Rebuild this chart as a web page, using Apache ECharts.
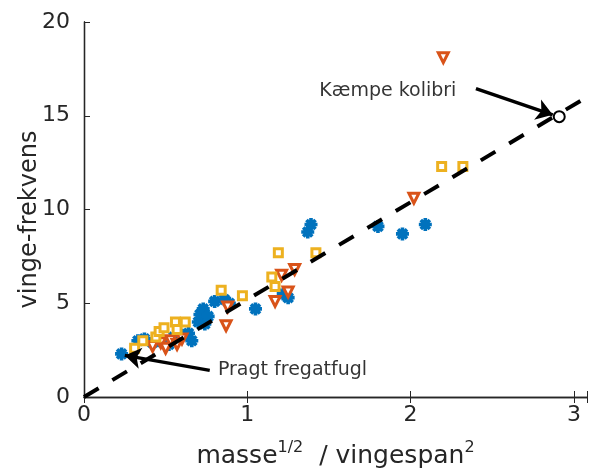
<!DOCTYPE html>
<html>
<head>
<meta charset="utf-8">
<script src="https://cdn.jsdelivr.net/npm/echarts@6/dist/echarts.min.js"></script>
<style>html,body{margin:0;padding:0;background:#fff}#c{width:590px;height:475px}</style>
</head>
<body>
<div id="c"></div>
<script>
// x = masse^(1/2) / vingespan^2, y = vinge-frekvens
const blueStars = [[0.23,2.3],[0.33,3.0],[0.37,3.1],[0.42,2.9],[0.46,3.0],[0.52,2.8],[0.55,3.2],[0.60,3.3],[0.64,3.4],[0.66,3.0],[0.70,4.0],[0.71,4.4],[0.73,4.7],[0.74,3.9],[0.76,4.3],[0.80,5.1],[0.86,5.2],[0.89,5.0],[1.05,4.7],[1.22,5.5],[1.25,5.3],[1.37,8.8],[1.39,9.2],[1.80,9.1],[1.95,8.7],[2.09,9.2]];
const redTriangles = [[0.42,2.7],[0.47,2.9],[0.50,2.6],[0.53,3.0],[0.57,2.8],[0.60,3.1],[0.87,3.8],[0.88,4.8],[1.17,5.1],[1.21,6.5],[1.25,5.6],[1.29,6.8],[2.02,10.6],[2.20,18.1]];
const yellowSquares = [[0.31,2.6],[0.36,3.0],[0.44,3.2],[0.46,3.5],[0.49,3.7],[0.56,4.0],[0.57,3.6],[0.62,4.0],[0.84,5.7],[0.97,5.4],[1.15,6.4],[1.17,5.9],[1.19,7.7],[1.42,7.7],[2.19,12.3],[2.32,12.3]];
const kolibri = [[2.91,14.95]];
const fitLine = [[0,0],[3.08,16.0]];
const xTicks = [0,1,2,3];
const yTicks = [0,5,10,15,20];
const arrows = [
  {from:[2.40,16.45], to:[2.87,15.05]},
  {from:[0.77,1.42], to:[0.25,2.22]}
];
const annotations = [
  {text:'Kæmpe kolibri', pos:[2.28,16.3], align:'right'},
  {text:'Pragt fregatfugl', pos:[0.82,1.42], align:'left'}
];

const txt = '#262626';
const starPath = 'path://M-5 -1.4 L5 -1.4 L5 1.4 L-5 1.4 Z M-1.4 -5 L1.4 -5 L1.4 5 L-1.4 5 Z M-4.5 -2.5 L-2.5 -4.5 L4.5 2.5 L2.5 4.5 Z M2.5 -4.5 L4.5 -2.5 L-2.5 4.5 L-4.5 2.5 Z';

const chart = echarts.init(document.getElementById('c'));
const font = 'DejaVu Sans';
chart.setOption({
  animation:false,
  textStyle:{fontFamily:font},
  grid:{left:84,right:3,top:22,bottom:78},
  xAxis:[{
    type:'value',min:0,max:3.08,interval:1,
    axisLine:{lineStyle:{color:txt,width:1.3}},
    axisTick:{inside:true,length:6,lineStyle:{color:txt}},
    axisLabel:{color:txt,fontSize:22,margin:7,fontFamily:font,
      formatter:v=>xTicks.includes(v)?String(v):''},
    splitLine:{show:false},
    name:'{a|masse}{s|1/2}{a|  / vingespan}{s|2}',
    nameLocation:'middle',nameGap:43,nameMoveOverlap:false,
    nameTextStyle:{rich:{
      a:{fontSize:25,color:txt,fontFamily:font},
      s:{fontSize:16,color:txt,fontFamily:font,padding:[0,0,16,0]}
    }}
  },{
    type:'value',position:'top',min:0,max:3.08,interval:1,
    axisLine:{show:true,lineStyle:{color:txt,width:1.3}},
    axisTick:{show:true,inside:true,length:6,lineStyle:{color:txt}},
    axisLabel:{show:false},splitLine:{show:false}
  }],
  yAxis:[{
    type:'value',min:0,max:20,interval:5,
    axisLine:{show:true,lineStyle:{color:txt,width:1.3}},
    axisTick:{show:true,inside:true,length:6,lineStyle:{color:txt}},
    axisLabel:{color:txt,fontSize:22,margin:14,fontFamily:font,
      formatter:v=>yTicks.includes(v)?String(v):''},
    splitLine:{show:false},
    name:'vinge-frekvens',nameLocation:'middle',nameGap:42,nameMoveOverlap:false,
    nameTextStyle:{fontSize:24,color:txt,fontFamily:font,padding:[0,20,0,0]}
  },{
    type:'value',position:'right',min:0,max:20,interval:5,
    axisLine:{show:true,lineStyle:{color:txt,width:1.3}},
    axisTick:{show:false},axisLabel:{show:false},splitLine:{show:false}
  }],
  series:[
    {type:'scatter',data:blueStars,symbol:starPath,symbolSize:13,
      itemStyle:{color:'#0072BD',opacity:1},z:2},
    {type:'scatter',data:redTriangles,symbol:'triangle',symbolRotate:180,symbolSize:10,
      itemStyle:{color:'#fff',borderColor:'#D95319',borderWidth:3,opacity:1},z:3},
    {type:'scatter',data:yellowSquares,symbol:'rect',symbolSize:8,
      itemStyle:{color:'#fff',borderColor:'#EDB120',borderWidth:3,opacity:1},z:4},
    {type:'line',data:fitLine,showSymbol:false,symbol:'none',
      lineStyle:{color:'#000',width:4,type:[17,16]},z:5},
    {type:'scatter',data:kolibri,symbol:'circle',symbolSize:11,
      itemStyle:{color:'#fff',borderColor:'#000',borderWidth:2,opacity:1},z:6},
    {type:'lines',coordinateSystem:'cartesian2d',z:7,
      data:arrows.map(a=>({coords:[a.from,a.to]})),
      symbol:['none','arrow'],symbolSize:[0,16],
      lineStyle:{color:'#000',width:3.5,opacity:1}},
    {type:'scatter',symbolSize:0,z:8,
      data:annotations.map(a=>({value:a.pos,label:{show:true,formatter:a.text,
        position:a.align==='right'?'left':'right',distance:0,align:a.align}})),
      label:{color:'#000',fontSize:19,fontFamily:font}}
  ]
});
</script>
</body>
</html>
